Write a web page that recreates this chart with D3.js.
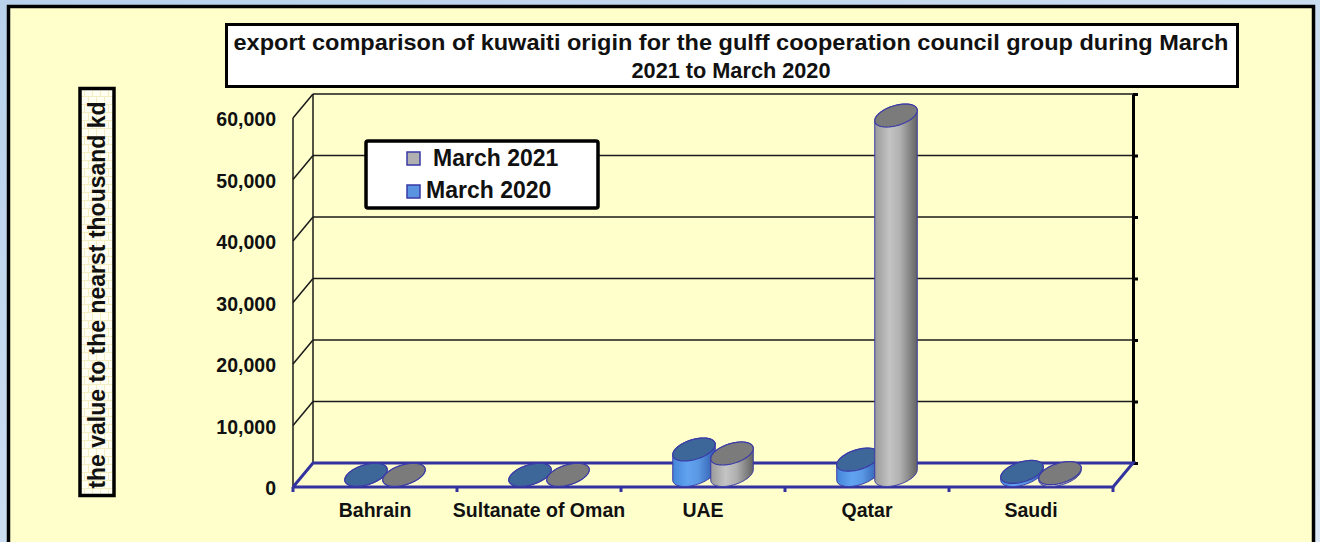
<!DOCTYPE html>
<html>
<head>
<meta charset="utf-8">
<script src="https://cdn.jsdelivr.net/npm/d3@7"></script>
<style>
  body { margin: 0; background: #fff; }
  svg { display: block; font-family: Arial, "Liberation Sans", sans-serif; }
</style>
</head>
<body>
<svg id="chart" width="1320" height="542"></svg>
<script>
// data
const categories = ["Bahrain", "Sultanate of Oman", "UAE", "Qatar", "Saudi"];
const march2020 = [40, 30, 4150, 2500, 500];
const march2021 = [30, 30, 3500, 58450, 300];
const seriesNames = ["March 2020", "March 2021"];
const legendNames = ["March 2021", "March 2020"];
const yTicks = [0, 10000, 20000, 30000, 40000, 50000, 60000];
const titleLines = ["export comparison of kuwaiti origin for the gulff cooperation council group during March", "2021 to March 2020"];
const yTitle = "the value to the nearst thousand kd";

// layout
const back = { left: 313, right: 1133, top: 94, bottom: 463 };
const depth = { dx: -20, dy: 24 };   // back wall -> front edge
const floorBlue = "#3333a0";

const svg = d3.select("#chart");
const defs = svg.append("defs");

// page background (light blue) + yellow frame
const bgGrad = defs.append("linearGradient").attr("id", "bg")
    .attr("x1", 0).attr("y1", 0).attr("x2", 1).attr("y2", 1);
bgGrad.append("stop").attr("offset", "0%").attr("stop-color", "#b9d1ec");
bgGrad.append("stop").attr("offset", "100%").attr("stop-color", "#dde9f6");
svg.append("rect").attr("width", 1320).attr("height", 542).attr("fill", "url(#bg)");
svg.append("rect")
    .attr("x", 8.5).attr("y", 6.5).attr("width", 1305).attr("height", 560)
    .attr("fill", "#ffffcc").attr("stroke", "#000").attr("stroke-width", 3.5);

// scales
const y = d3.scaleLinear().domain([0, 60000]).range([back.bottom, back.top]);
const xBack = d3.scaleBand().domain(categories).range([back.left, back.right]);
const xFront = d3.scaleBand().domain(categories).range([back.left + depth.dx, back.right + depth.dx]);
const xSeries = d3.scaleBand().domain(seriesNames).range([-38, 38]);

// grid: back wall lines + left wall
const grid = svg.append("g").attr("stroke", "#1a1a1a").attr("stroke-width", 1.5).attr("fill", "none");
yTicks.filter(t => t > 0).forEach(t => {
    grid.append("line")
        .attr("x1", back.left).attr("x2", back.right)
        .attr("y1", y(t)).attr("y2", y(t));
    grid.append("line")
        .attr("x1", back.left + depth.dx).attr("y1", y(t) + depth.dy)
        .attr("x2", back.left).attr("y2", y(t));
});
grid.append("line")
    .attr("x1", back.left).attr("x2", back.left)
    .attr("y1", y(60000)).attr("y2", y(0));
grid.append("line")
    .attr("x1", back.left + depth.dx).attr("x2", back.left + depth.dx)
    .attr("y1", y(60000) + depth.dy).attr("y2", y(0) + depth.dy);

// right axis (ticks only)
const rightAxis = svg.append("g")
    .attr("transform", `translate(${back.right},0)`)
    .call(d3.axisRight(y).tickValues(yTicks).tickSize(5).tickSizeOuter(0).tickFormat(""));
rightAxis.select(".domain").attr("stroke", "#000").attr("stroke-width", 3);
rightAxis.selectAll(".tick line").attr("stroke", "#000").attr("stroke-width", 3);

// floor outline
const floor = svg.append("g").attr("stroke", floorBlue).attr("stroke-width", 3).attr("fill", "none");
floor.append("path").attr("d", d3.line()([
    [back.left + depth.dx, y(0) + depth.dy],
    [back.left, y(0)],
    [back.right, y(0)],
    [back.right + depth.dx, y(0) + depth.dy],
    [back.left + depth.dx, y(0) + depth.dy]
]));
const boundaries = categories.map(c => xFront(c)).concat([xFront(categories[4]) + xFront.bandwidth()]);
boundaries.forEach(bx => {
    floor.append("line").attr("x1", bx).attr("x2", bx)
        .attr("y1", y(0) + depth.dy).attr("y2", y(0) + depth.dy + 5);
});

// y tick labels at the front
const leftAxis = svg.append("g")
    .attr("transform", `translate(${back.left + depth.dx},${depth.dy})`)
    .call(d3.axisLeft(y).tickValues(yTicks).tickSize(0).tickPadding(17).tickFormat(d3.format(",")));
leftAxis.select(".domain").remove();
leftAxis.selectAll("text")
    .attr("dy", "0.4em")
    .attr("font-size", 19.5).attr("font-weight", "bold").attr("fill", "#111")
    .attr("font-family", "Arial, 'Liberation Sans', sans-serif");

// category labels
const bottomAxis = svg.append("g")
    .attr("transform", `translate(0,${y(0) + depth.dy})`)
    .call(d3.axisBottom(xFront).tickSize(0).tickPadding(16));
bottomAxis.select(".domain").remove();
bottomAxis.selectAll("text")
    .attr("font-size", 19.5).attr("font-weight", "bold").attr("fill", "#111")
    .attr("font-family", "Arial, 'Liberation Sans', sans-serif");

// cylinder gradients
const colors = {
    "March 2020": { top: "#3d6699", stops: ["#4585d8", "#62a3f0", "#5a98e4", "#2f5cab"] },
    "March 2021": { top: "#7b7b7b", stops: ["#9a9a9a", "#c4c4c4", "#b0b0b0", "#636363"] }
};
seriesNames.forEach((s, i) => {
    const g = defs.append("linearGradient").attr("id", "body" + i)
        .attr("x1", 0).attr("y1", 0).attr("x2", 1).attr("y2", 0);
    [0, 0.35, 0.6, 1].forEach((o, k) => {
        g.append("stop").attr("offset", o).attr("stop-color", colors[s].stops[k]);
    });
});

// cylinder geometry: ellipse P(t) = c + a cos t + b sin t
const ax = 19, bx = 9.5, by = -11.5;
const t0 = Math.atan2(bx, ax);
function ellPts(cx, cy, ta, tb, n) {
    const pts = [];
    for (let i = 0; i <= n; i++) {
        const t = ta + (tb - ta) * i / n;
        pts.push([cx + ax * Math.cos(t) + bx * Math.sin(t), cy + by * Math.sin(t)]);
    }
    return pts;
}

const bars = [];
categories.forEach((c, i) => {
    bars.push({ cat: c, series: "March 2020", value: march2020[i], si: 0 });
    bars.push({ cat: c, series: "March 2021", value: march2021[i], si: 1 });
});

const cyl = svg.append("g");
bars.forEach(d => {
    const cx = xBack(d.cat) + xBack.bandwidth() / 2 + depth.dx / 2 + xSeries(d.series) + xSeries.bandwidth() / 2;
    const cyBase = y(0) + depth.dy / 2;
    const cyTop = y(d.value) + depth.dy / 2;
    const body = ellPts(cx, cyBase, t0 + Math.PI, t0 + 2 * Math.PI, 40)
        .concat(ellPts(cx, cyTop, t0, t0 + Math.PI, 40));
    cyl.append("path")
        .attr("d", d3.line()(body) + "Z")
        .attr("fill", `url(#body${d.si})`)
        .attr("stroke", "#3a3aa8").attr("stroke-width", 1);
    cyl.append("path")
        .attr("d", d3.line()(ellPts(cx, cyTop, 0, 2 * Math.PI, 80)) + "Z")
        .attr("fill", colors[d.series].top)
        .attr("stroke", "#3a3aa8").attr("stroke-width", 1.2);
});

// title box
svg.append("rect")
    .attr("x", 226.5).attr("y", 24.5).attr("width", 1011).attr("height", 62)
    .attr("fill", "#fff").attr("stroke", "#000").attr("stroke-width", 3);
const titleWidths = [995, 199];
svg.append("g").selectAll("text").data(titleLines).join("text")
    .attr("x", 731).attr("y", (d, i) => 50 + i * 28)
    .attr("text-anchor", "middle")
    .attr("font-size", 22).attr("font-weight", "bold").attr("fill", "#111")
    .attr("textLength", (d, i) => titleWidths[i])
    .attr("lengthAdjust", "spacingAndGlyphs")
    .text(d => d);

// legend
const legend = svg.append("g");
legend.append("rect")
    .attr("x", 366).attr("y", 141).attr("width", 232).attr("height", 67).attr("rx", 2)
    .attr("fill", "#fff").attr("stroke", "#000").attr("stroke-width", 3.5);
const legendSwatch = { "March 2021": "#b0b0b0", "March 2020": "#5a94e0" };
const legendTextX = { "March 2021": 433, "March 2020": 426 };
legendNames.forEach((s, i) => {
    legend.append("rect")
        .attr("x", 407).attr("y", 152 + i * 33).attr("width", 13).attr("height", 13)
        .attr("fill", legendSwatch[s]).attr("stroke", "#3a3aa8").attr("stroke-width", 1.5);
    legend.append("text")
        .attr("x", legendTextX[s]).attr("y", 166 + i * 32)
        .attr("font-size", 23).attr("font-weight", "bold").attr("fill", "#111")
        .text(s);
});

// y axis title box with brick pattern
const pat = defs.append("pattern").attr("id", "bricks")
    .attr("patternUnits", "userSpaceOnUse").attr("width", 8).attr("height", 16);
pat.append("rect").attr("width", 8).attr("height", 16).attr("fill", "#fffef2");
pat.append("path")
    .attr("d", "M0,0.5H8M0,8.5H8M0.5,0V8M4.5,8V16")
    .attr("stroke", "#f2eec2").attr("stroke-width", 1);
svg.append("rect")
    .attr("x", 80).attr("y", 88.5).attr("width", 34).attr("height", 407)
    .attr("fill", "url(#bricks)").attr("stroke", "#000").attr("stroke-width", 3.5);
svg.append("text")
    .attr("transform", "translate(97,295) rotate(-90)")
    .attr("text-anchor", "middle").attr("dy", "0.36em")
    .attr("font-size", 23).attr("font-weight", "bold").attr("fill", "#111")
    .text(yTitle);
</script>
</body>
</html>
